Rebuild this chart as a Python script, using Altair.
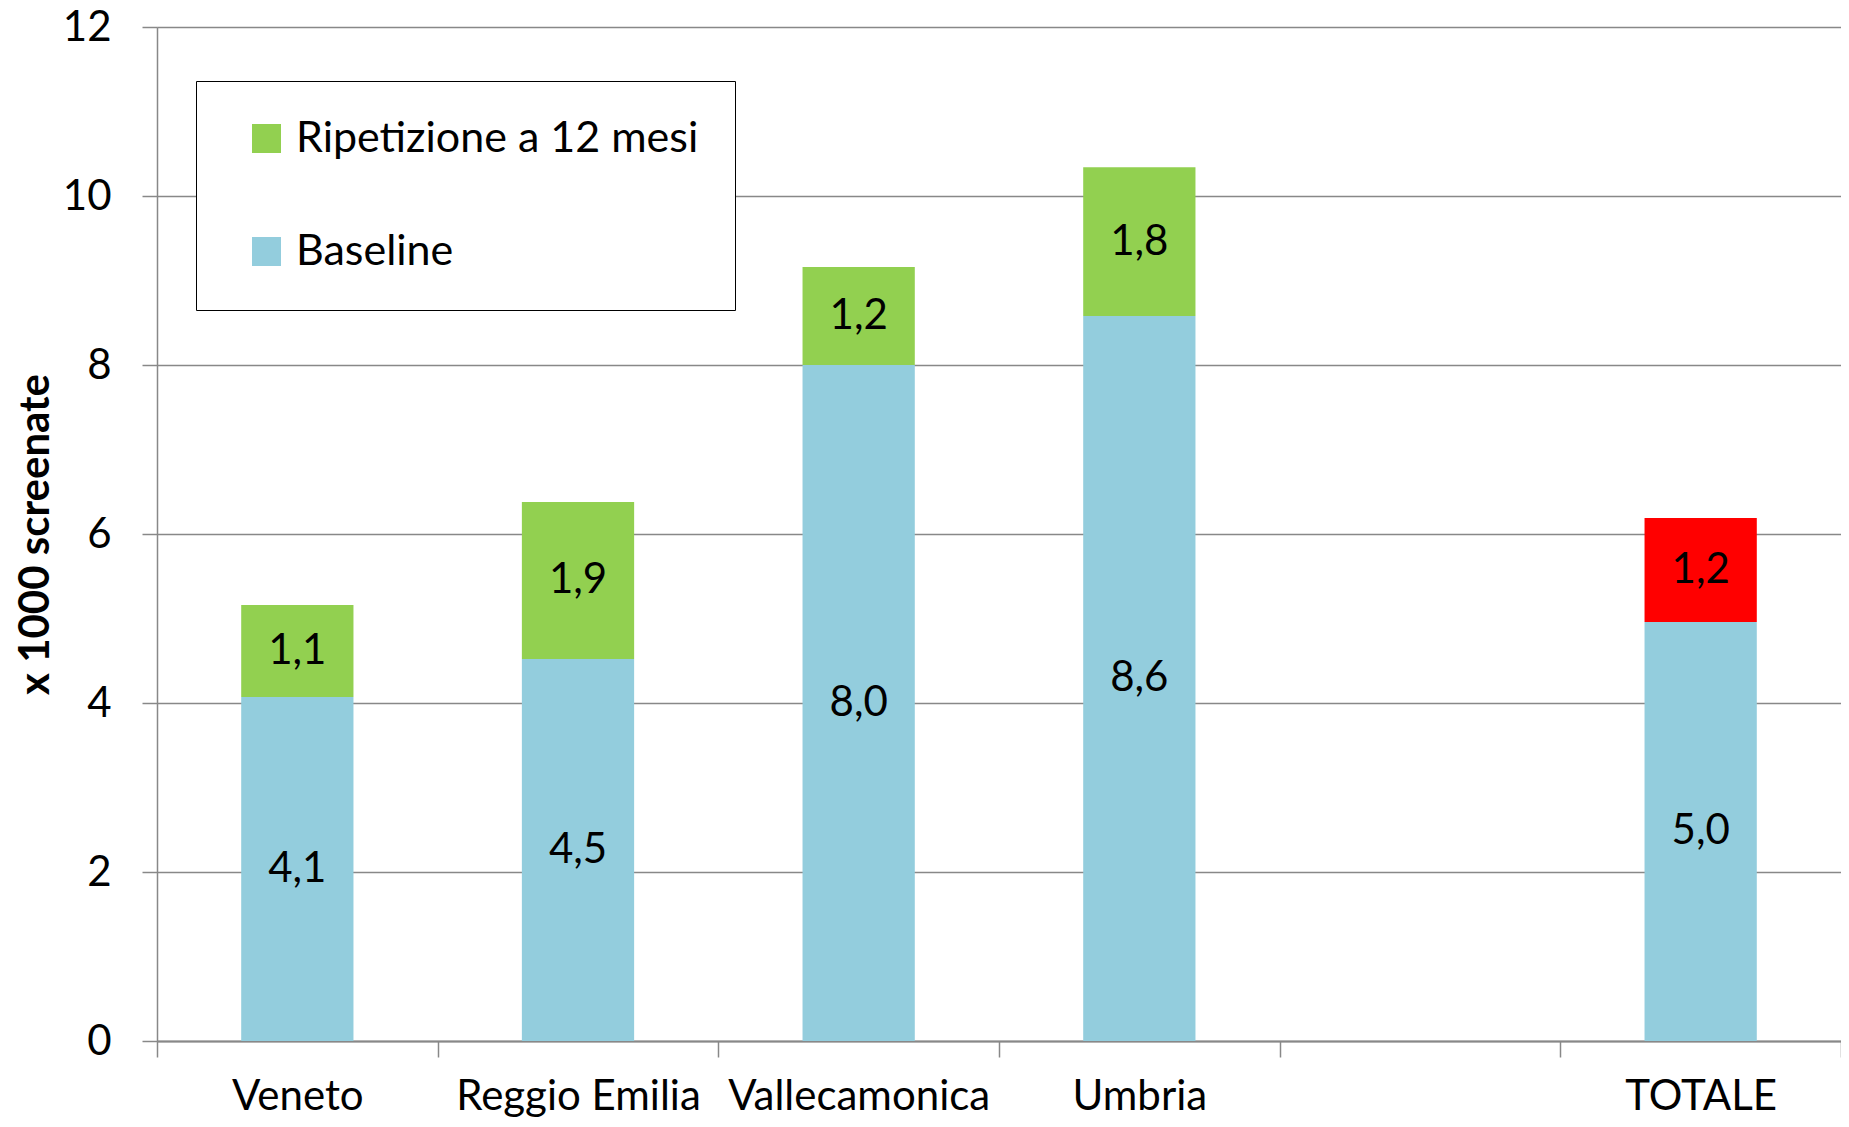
import altair as alt
import pandas as pd

# ---- data ----
dominio_x = ["Veneto", "Reggio Emilia", "Vallecamonica", "Umbria", " ", "TOTALE"]
categorie = ["Veneto", "Reggio Emilia", "Vallecamonica", "Umbria", "TOTALE"]
baseline = [4.07, 4.52, 8.0, 8.58, 4.96]
ripetizione = [1.09, 1.86, 1.16, 1.76, 1.23]
serie_rip = ["Ripetizione a 12 mesi"] * 4 + ["Ripetizione totale"]

serie_dominio = ["Ripetizione a 12 mesi", "Baseline", "Ripetizione totale"]
serie_colori = ["#92D050", "#93CDDD", "#FF0000"]
y_ticks = [0, 2, 4, 6, 8, 10, 12]

rows = []
for c, b, r, s in zip(categorie, baseline, ripetizione, serie_rip):
    rows.append({"categoria": c, "serie": "Baseline", "valore": b, "ordine": 0})
    rows.append({"categoria": c, "serie": s, "valore": r, "ordine": 1})
df = pd.DataFrame(rows)

FONT = "Lato"
GRID = "#888888"
FS = 42

base = alt.Chart(df).transform_stack(
    stack="valore", groupby=["categoria"], as_=["y0", "y1"],
    sort=[alt.SortField("ordine", order="ascending")]
).transform_calculate(
    mid="(datum.y0 + datum.y1) / 2",
    etichetta="replace(format(datum.valore, '.1f'), '.', ',')"
)

x_scale = alt.Scale(domain=dominio_x, paddingInner=0, paddingOuter=0)

x_enc = alt.X(
    "categoria:N",
    scale=x_scale,
    axis=alt.Axis(
        title=None, labelAngle=0, tickBand="extent", tickSize=16,
        tickColor=GRID, tickWidth=1.5, domainColor=GRID, domainWidth=2,
        labelFontSize=FS, labelFont=FONT, labelColor="black", labelPadding=19,
        labelLimit=0, labelOverlap=False, grid=False,
    ),
)

bars = base.mark_bar(width=alt.RelativeBandSize(0.4)).encode(
    x=x_enc,
    y=alt.Y(
        "y1:Q",
        scale=alt.Scale(domain=[0, 12], nice=False),
        axis=alt.Axis(
            values=y_ticks, format="d", grid=True, gridColor=GRID, gridWidth=1.5,
            domainColor=GRID, domainWidth=1.5, tickColor=GRID, tickWidth=1.5,
            tickSize=15, labelFontSize=FS, labelFont=FONT, labelColor="black",
            labelPadding=31,
            title="x 1000 screenate", titleFontSize=42, titleFont=FONT,
            titleFontWeight="bold", titleColor="black",
            titleX=-122, titleY=507, titleAlign="center", titleBaseline="middle",
        ),
    ),
    y2="y0:Q",
    color=alt.Color(
        "serie:N",
        scale=alt.Scale(domain=serie_dominio, range=serie_colori),
        legend=alt.Legend(
            values=["Ripetizione a 12 mesi", "Baseline"],
            orient="none", legendX=39, legendY=54, title=None,
            symbolType="square", symbolSize=841, symbolStrokeWidth=0,
            symbolOffset=13,
            labelFontSize=43, labelFont=FONT, labelColor="black",
            labelLimit=0, labelOffset=8,
            fillColor="white", strokeColor="black",
            padding=36, rowPadding=69,
        ),
    ),
    order=alt.Order("ordine:Q"),
)

labels = base.mark_text(fontSize=FS, font=FONT, color="black", baseline="middle").encode(
    x=alt.X("categoria:N", scale=x_scale),
    y=alt.Y("mid:Q"),
    text="etichetta:N",
)

chart = alt.layer(bars, labels).properties(
    width=1684, height=1014,
    autosize=alt.AutoSizeParams(type="none"),
    padding={"left": 149, "top": 19, "right": 0, "bottom": 78},
).configure_view(stroke=None).configure(font=FONT)

chart.save("out.html", embed_options={"renderer": "svg", "actions": False})
